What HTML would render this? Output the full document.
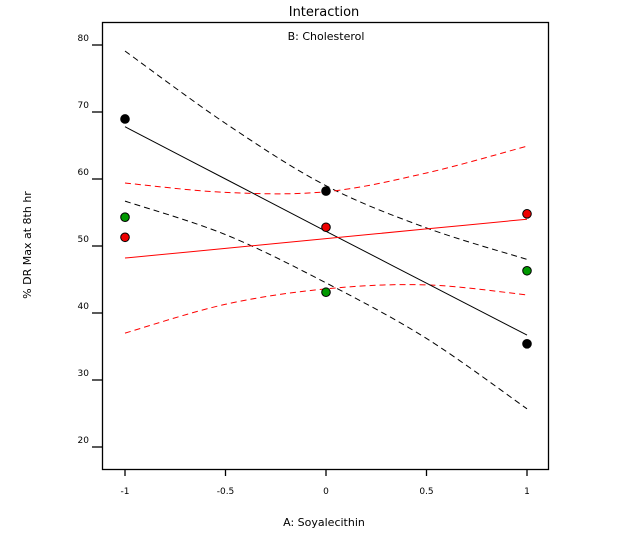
<!DOCTYPE html>
<html><head><meta charset="utf-8"><style>
body{margin:0;background:#fff;}
svg{display:block;font-family:"DejaVu Sans","Liberation Sans",sans-serif;}
</style></head><body>
<svg id="chart" width="625" height="538"></svg>
<script>
const xTicks=[-1,-0.5,0,0.5,1];
const xTickLabels=["-1","-0.5","0","0.5","1"];
const yTicks=[20,30,40,50,60,70,80];
const yTickLabels=["20","30","40","50","60","70","80"];
const curveX=[-1,-0.5,0,0.5,1];
const blackFit=[67.8,60.0,52.2,44.45,36.7];
const blackUpper=[79.1,68.3,59.0,52.7,48.0];
const blackLower=[56.7,51.7,44.5,36.2,25.7];
const redFit=[48.2,49.65,51.1,52.55,54.0];
const redUpper=[59.4,58.0,58.1,60.9,64.9];
const redLower=[37.0,41.3,43.6,44.2,42.7];
const ptX=[-1,0,1];
const blackPts=[68.96,58.2,35.4];
const greenPts=[54.3,43.1,46.3];
const redPts=[51.3,52.8,54.8];

const NS="http://www.w3.org/2000/svg";
const svg=document.getElementById('chart');
const X=v=>326+v*201;
const Y=v=>447-(v-20)*6.7;
function el(t,a,p){const e=document.createElementNS(NS,t);for(const k in a)e.setAttribute(k,a[k]);(p||svg).appendChild(e);return e;}
function txt(x,y,s,size,anchor,extra){const t=el('text',Object.assign({x:x,y:y,'font-size':size,'text-anchor':anchor||'middle',fill:'#000'},extra||{}));t.textContent=s;return t;}

const box=el('rect',{x:102.5,y:22.5,width:446,height:447,fill:'none',stroke:'#000','stroke-width':1.3});



xTicks.forEach((v,i)=>{
  const l=el('line',{x1:X(v),x2:X(v),y1:469,y2:476,stroke:'#000','stroke-width':1.3});
  
  
  const t=txt(X(v),494,xTickLabels[i],9);
  
  
});
yTicks.forEach((v,i)=>{
  const l=el('line',{x1:92,x2:102,y1:Y(v),y2:Y(v),stroke:'#000','stroke-width':1.3});
  
  
  const t=txt(89,Y(v)-4,yTickLabels[i],9,'end');
  
  
});

function smooth(vals){
  const p=curveX.map((x,i)=>[X(x),Y(vals[i])]);
  let d=`M${p[0][0]},${p[0][1]}`;
  for(let i=0;i<p.length-1;i++){
    const p0=p[i-1]||p[i],p1=p[i],p2=p[i+1],p3=p[i+2]||p[i+1];
    const c1=[p1[0]+(p2[0]-p0[0])/6,p1[1]+(p2[1]-p0[1])/6];
    const c2=[p2[0]-(p3[0]-p1[0])/6,p2[1]-(p3[1]-p1[1])/6];
    d+=` C${c1[0]},${c1[1]} ${c2[0]},${c2[1]} ${p2[0]},${p2[1]}`;
  }
  return d;
}
function curve(vals,color,dash,name){
  const p=el('path',{d:smooth(vals),fill:'none',stroke:color,'stroke-width':1,'stroke-dasharray':dash||'none'});
  
  
}
curve(blackUpper,'#000','6,4','black-upper-ci');
curve(blackLower,'#000','6,4','black-lower-ci');
curve(redUpper,'#f00','6,4','red-upper-ci');
curve(redLower,'#f00','6,4','red-lower-ci');
curve(blackFit,'#000',null,'black-fit-line');
curve(redFit,'#f00',null,'red-fit-line');

function pts(vals,color,name){
  ptX.forEach((x,i)=>{
    const c=el('circle',{cx:X(x),cy:Y(vals[i]),r:4.3,fill:color,stroke:'#000','stroke-width':1});
    
    
  });
}
pts(greenPts,'#009900','green-point');
pts(redPts,'#ee0000','red-point');
pts(blackPts,'#000','black-point');

let t=txt(324,16,'Interaction',13);


t=txt(326,40,'B: Cholesterol',11);


t=txt(324,526,'A: Soyalecithin',11);


t=txt(0,0,'% DR Max at 8th hr',11,'middle',{transform:'translate(31,245) rotate(-90)'});


</script>
</body></html>
